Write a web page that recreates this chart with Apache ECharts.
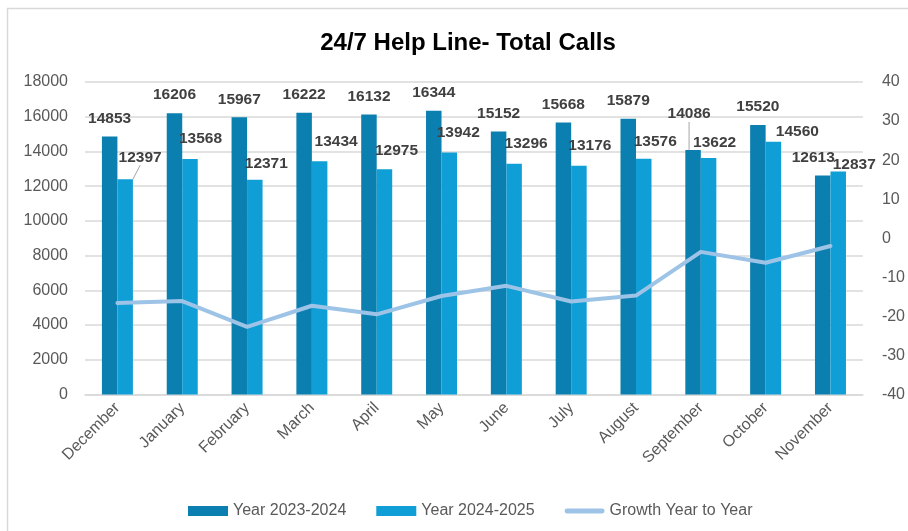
<!DOCTYPE html>
<html>
<head>
<meta charset="utf-8">
<script src="https://cdn.jsdelivr.net/npm/echarts@6/dist/echarts.min.js"></script>
<style>
html,body{margin:0;padding:0;background:#fff;}
#chart{width:908px;height:531px;}
</style>
</head>
<body>
<div id="chart"></div>
<script>
const categories = ['December','January','February','March','April','May','June','July','August','September','October','November'];
const calls2324 = [14853,16206,15967,16222,16132,16344,15152,15668,15879,14086,15520,12613];
const calls2425 = [12397,13568,12371,13434,12975,13942,13296,13176,13576,13622,14560,12837];
const growth = [-16.6,-16.1,-22.7,-17.3,-19.5,-14.8,-12.2,-16.2,-14.7,-3.5,-6.3,-2.0];
const leftTicks = {min:0, max:18000, interval:2000};
const rightTicks = {min:-40, max:40, interval:10};

// label nudges (pixels), per series
const shiftDark = [[0,0],[0,0],[0,0],[0,0],[0,0],[0,0],[0,0],[0,0],[0,0],[-4,-18],[0,0],[-9.5,0]];
const shiftLight = [[15,-4],[10.5,-2],[11.5,2],[16.5,-2],[12,0],[9,-2],[12,-2],[11,-2],[11.5,1],[6,3],[24,8],[16,11]];
const guideDark = [9];
const guideLight = [0];

const labelFont = {fontFamily:'Liberation Sans, Arial, sans-serif', fontSize:15.5, fontWeight:'bold', color:'#404040'};
const axisFont = {fontFamily:'Liberation Sans, Arial, sans-serif', fontSize:16, color:'#595959'};

function mkData(vals, guides){
  return vals.map((v,i)=> guides.indexOf(i) >= 0
    ? {value:v, labelLine:{show:true, lineStyle:{color:'#a6a6a6', width:1}}}
    : v);
}

const chart = echarts.init(document.getElementById('chart'), null, {renderer:'canvas'});
chart.setOption({
  animation:false,
  backgroundColor:'#fff',
  graphic:[{type:'rect', shape:{x:7.5, y:8.5, width:920, height:540}, style:{fill:'none', stroke:'#d9d9d9', lineWidth:1.5}, silent:true, z:-10}],
  title:{
    text:'24/7 Help Line- Total Calls',
    left:463, top:26, textAlign:'center',
    textStyle:{fontFamily:'Liberation Sans, Arial, sans-serif', fontSize:24, fontWeight:'bold', color:'#000'}
  },
  legend:{
    left:183, top:498,
    itemWidth:40, itemHeight:10, itemGap:30,
    textStyle:axisFont,
    data:[
      {name:'Year 2023-2024', icon:'rect'},
      {name:'Year 2024-2025', icon:'rect'},
      {name:'Growth Year to Year', icon:'path://M2.5,0 L39.5,0 A2.5,2.5 0 0 1 39.5,5 L2.5,5 A2.5,2.5 0 0 1 2.5,0 Z', itemStyle:{color:'#9DC3E6'}}
    ]
  },
  grid:{left:85, right:43, top:82, height:312.4, containLabel:false},
  xAxis:{
    type:'category', data:categories,
    axisLine:{lineStyle:{color:'#d9d9d9', width:1.5}},
    axisTick:{show:false},
    axisLabel:Object.assign({rotate:45, margin:11, interval:0}, axisFont)
  },
  yAxis:[
    {type:'value', min:leftTicks.min, max:leftTicks.max, interval:leftTicks.interval,
     axisLine:{show:false}, axisTick:{show:false},
     splitLine:{lineStyle:{color:'#d9d9d9', width:1.5}},
     axisLabel:Object.assign({margin:17, formatter:function(v){return String(v);}}, axisFont)},
    {type:'value', min:rightTicks.min, max:rightTicks.max, interval:rightTicks.interval,
     axisLine:{show:false}, axisTick:{show:false}, splitLine:{show:false},
     axisLabel:Object.assign({margin:19}, axisFont)}
  ],
  series:[
    {name:'Year 2023-2024', type:'bar', data:mkData(calls2324, guideDark),
     barWidth:15.5, barGap:'0%',
     itemStyle:{color:'#0B7FB0'},
     label:Object.assign({show:true, position:'top', distance:10}, labelFont),
     labelLayout:function(p){const s=shiftDark[p.dataIndex]; return {dx:s[0], dy:s[1]};}
    },
    {name:'Year 2024-2025', type:'bar', data:mkData(calls2425, guideLight),
     barWidth:15.5, barGap:'0%',
     itemStyle:{color:'#0F9ED5'},
     label:Object.assign({show:true, position:'top', distance:10}, labelFont),
     labelLayout:function(p){const s=shiftLight[p.dataIndex]; return {dx:s[0], dy:s[1]};}
    },
    {name:'Growth Year to Year', type:'line', yAxisIndex:1, data:growth,
     symbol:'none', z:5,
     lineStyle:{color:'#9DC3E6', width:4, cap:'round', join:'round'},
     itemStyle:{color:'#9DC3E6'}
    }
  ]
});
</script>
</body>
</html>
